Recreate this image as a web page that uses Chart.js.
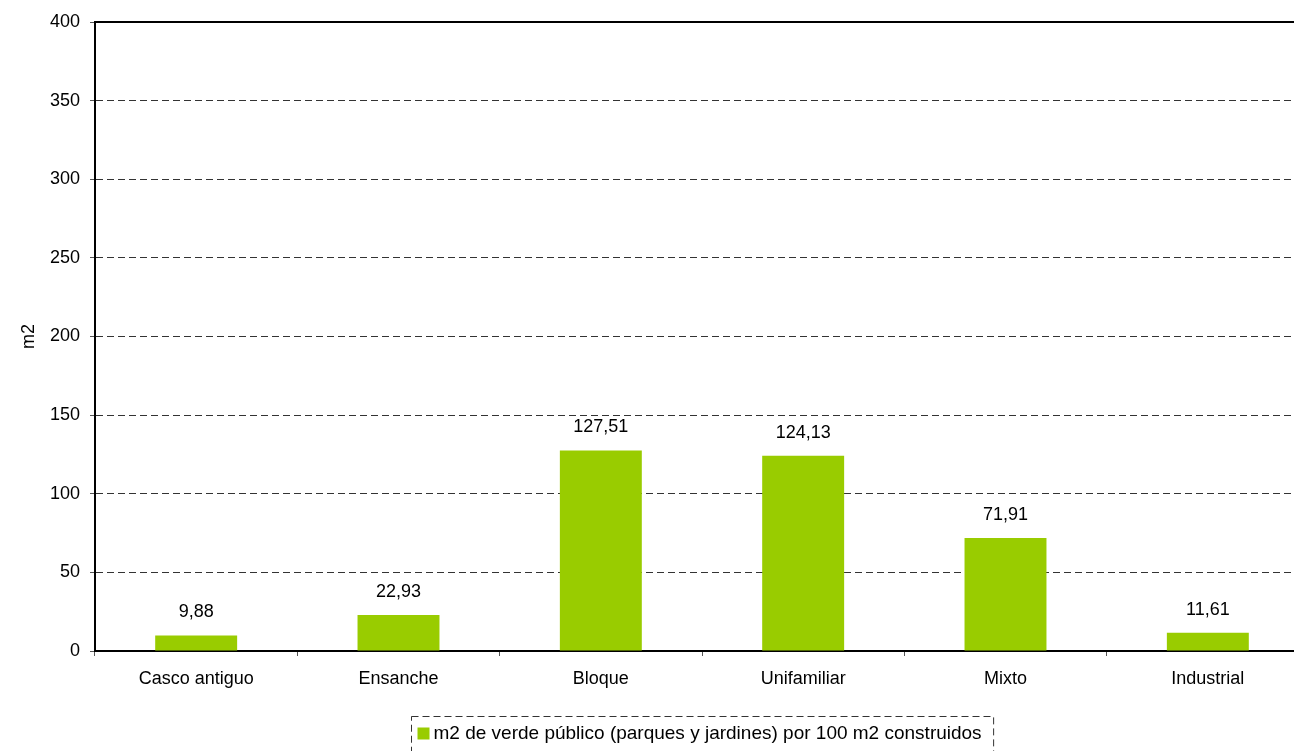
<!DOCTYPE html>
<html>
<head>
<meta charset="utf-8">
<script src="https://cdn.jsdelivr.net/npm/chart.js@4"></script>
<style>
  html, body { margin: 0; padding: 0; background: #fff; overflow: hidden; }
  #wrap { position: absolute; left: 0; top: 0; width: 1310px; height: 768px; }
</style>
</head>
<body>
<div id="wrap"><canvas id="chart" width="1310" height="768"></canvas></div>
<script>
// data
const categories = ["Casco antiguo", "Ensanche", "Bloque", "Unifamiliar", "Mixto", "Industrial"];
const greenValues = [9.88, 22.93, 127.51, 124.13, 71.91, 11.61];
const seriesLabel = "m2 de verde público (parques y jardines) por 100 m2 construidos";
const yTicks = [0, 50, 100, 150, 200, 250, 300, 350, 400];

const FONT = "'Liberation Sans', Arial, sans-serif";
const green = "#99CC00";

// value labels above each bar, decimal comma like the original
const valueLabels = {
  id: "valueLabels",
  afterDatasetsDraw(chart) {
    const ctx = chart.ctx;
    const meta = chart.getDatasetMeta(0);
    ctx.save();
    ctx.font = "18px " + FONT;
    ctx.fillStyle = "#000";
    ctx.textAlign = "center";
    ctx.textBaseline = "middle";
    meta.data.forEach((bar, i) => {
      const v = chart.data.datasets[0].data[i];
      ctx.fillText(v.toFixed(2).replace(".", ","), bar.x, bar.y - 23);
    });
    ctx.restore();
  }
};

// solid line along the top of the plot area
const topFrame = {
  id: "topFrame",
  afterDraw(chart) {
    const a = chart.chartArea;
    const ctx = chart.ctx;
    ctx.save();
    ctx.strokeStyle = "#000";
    ctx.lineWidth = 2;
    ctx.beginPath();
    ctx.moveTo(a.left, a.top);
    ctx.lineTo(a.right, a.top);
    ctx.stroke();
    ctx.restore();
  }
};

// legend box with dashed border, below the x axis
const dashedLegend = {
  id: "dashedLegend",
  afterDraw(chart) {
    const a = chart.chartArea;
    const ctx = chart.ctx;
    const ds = chart.data.datasets[0];
    ctx.save();
    ctx.font = "19px " + FONT;
    const tw = ctx.measureText(ds.label).width;
    const boxW = tw + 34;
    const boxH = 36;
    const cx = (a.left + a.right) / 2;
    const x0 = Math.round(cx - boxW / 2) + 0.5;
    const y0 = a.bottom + 65.5;
    ctx.strokeStyle = "#333";
    ctx.lineWidth = 1;
    ctx.setLineDash([7, 4]);
    ctx.strokeRect(x0, y0, boxW, boxH);
    ctx.setLineDash([]);
    ctx.fillStyle = ds.backgroundColor;
    ctx.fillRect(x0 + 6, y0 + 11, 12, 12);
    ctx.fillStyle = "#000";
    ctx.textBaseline = "middle";
    ctx.textAlign = "left";
    ctx.fillText(ds.label, x0 + 22, y0 + 17);
    ctx.restore();
  }
};

new Chart(document.getElementById("chart"), {
  type: "bar",
  data: {
    labels: categories,
    datasets: [{
      label: seriesLabel,
      data: greenValues,
      backgroundColor: green,
      borderWidth: 0,
      categoryPercentage: 1,
      barPercentage: 0.405
    }]
  },
  options: {
    responsive: false,
    animation: false,
    events: [],
    layout: { padding: { top: 22, right: 1, bottom: 57, left: 0 } },
    plugins: {
      legend: { display: false },
      tooltip: { enabled: false }
    },
    scales: {
      x: {
        offset: true,
        grid: {
          display: true,
          offset: true,
          drawOnChartArea: false,
          drawTicks: true,
          tickLength: 5,
          tickColor: "#555",
          tickWidth: 1
        },
        border: { display: true, color: "#000", width: 2 },
        ticks: {
          color: "#000",
          font: { family: FONT, size: 18 },
          padding: 12,
          maxRotation: 0,
          autoSkip: false
        },
        afterFit(scale) { scale.height = 60; }
      },
      y: {
        min: 0,
        max: 400,
        afterBuildTicks(scale) { scale.ticks = yTicks.map(v => ({ value: v })); },
        grid: {
          color: ctx => (ctx.tick && ctx.tick.value === 400) ? "rgba(0,0,0,0)" : "#333",
          lineWidth: 1,
          drawTicks: true,
          tickLength: 5,
          tickColor: "#555",
          tickWidth: 1
        },
        border: { display: true, color: "#000", width: 2, dash: [7, 4] },
        ticks: {
          color: "#000",
          font: { family: FONT, size: 18 },
          padding: 10
        },
        title: {
          display: true,
          text: "m2",
          color: "#000",
          font: { family: FONT, size: 18 },
          padding: { top: 18, bottom: 0 }
        },
        afterFit(scale) { scale.width = 95; }
      }
    }
  },
  plugins: [valueLabels, topFrame, dashedLegend]
});
</script>
</body>
</html>
